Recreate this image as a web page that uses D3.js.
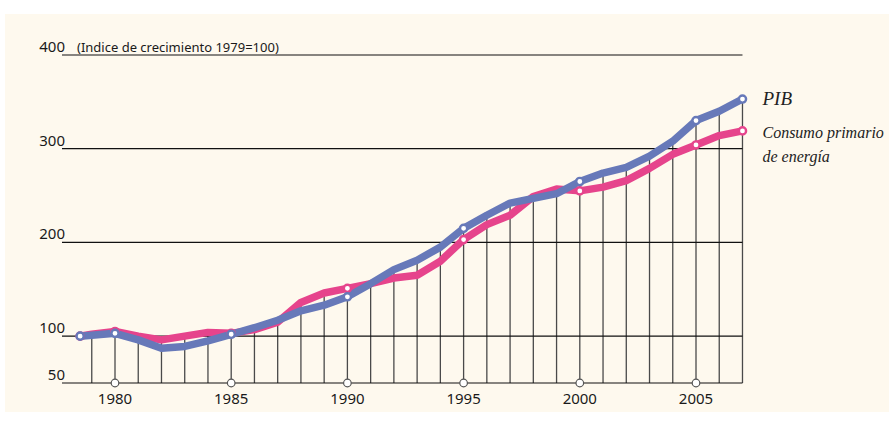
<!DOCTYPE html>
<html lang="es">
<head>
  <meta charset="UTF-8">
  <title>PIB y consumo primario de energía</title>
  <script src="https://cdn.jsdelivr.net/npm/d3@7"></script>
  <style>
    body {
      margin: 0;
      background: #fff;
    }
    svg {
      display: block;
    }
    .tick-label {
      font-family: "Noto Sans", sans-serif;
      font-size: 15px;
      fill: #1a1a1a;
    }
    .legend {
      font-family: "Liberation Serif", serif;
      font-style: italic;
      font-size: 16px;
      fill: #222;
    }
  </style>
</head>
<body>
  <svg width="889" height="422"></svg>
  <script>
    // Datos (índice 1979 = 100)
    const years = [1978.5, 1979, 1980, 1981, 1982, 1983, 1984, 1985, 1986, 1987, 1988,
      1989, 1990, 1991, 1992, 1993, 1994, 1995, 1996, 1997, 1998, 1999,
      2000, 2001, 2002, 2003, 2004, 2005, 2006, 2007];
    const pib = [100, 101, 103, 96, 87, 89, 95, 102, 109, 117, 127,
      133, 142, 156, 171, 181, 195, 215, 229, 242, 247, 252,
      265, 274, 280, 292, 308, 330, 340, 353];
    const energia = [100, 102, 105, 100, 96, 100, 104, 103, 107, 115, 136,
      146, 151, 156, 162, 165, 180, 203, 219, 229, 249, 257,
      255, 259, 266, 279, 294, 304, 314, 319];
    const markedYears = [1978.5, 1980, 1985, 1990, 1995, 2000, 2005, 2007];
    const yearLabels = [1980, 1985, 1990, 1995, 2000, 2005];
    const yTicks = [50, 100, 200, 300, 400];
    const unitNote = '(Indice de crecimiento 1979=100)';

    const blue = '#6779b9';
    const pink = '#e6448c';

    const svg = d3.select('svg');

    const x = d3.scaleLinear().domain([1980, 2005]).range([115, 696]);
    const y = d3.scaleLinear().domain([50, 400]).range([383, 55]);
    const x0 = 62;
    const x1 = x(2007);

    // fondo crema
    svg.append('rect')
      .attr('x', 5).attr('y', 14)
      .attr('width', 884).attr('height', 398)
      .attr('fill', '#fef9ee');

    // lineas verticales por año
    const rows = years.map((yr, i) => ({ year: yr, pib: pib[i], energia: energia[i] }));
    svg.append('g')
      .selectAll('line')
      .data(rows.filter(d => Number.isInteger(d.year)))
      .join('line')
      .attr('x1', d => x(d.year)).attr('x2', d => x(d.year))
      .attr('y1', y(50))
      .attr('y2', d => y(Math.max(d.pib, d.energia)))
      .attr('stroke', '#4a4a4a')
      .attr('stroke-width', 1.3);

    // lineas horizontales
    svg.append('g')
      .selectAll('line')
      .data(yTicks)
      .join('line')
      .attr('x1', x0).attr('x2', x1)
      .attr('y1', d => y(d)).attr('y2', d => y(d))
      .attr('stroke', '#111')
      .attr('stroke-width', 1.2);

    svg.append('g')
      .selectAll('text')
      .data(yTicks)
      .join('text')
      .attr('class', 'tick-label')
      .attr('x', 65)
      .attr('y', d => y(d) - 3)
      .attr('text-anchor', 'end')
      .text(d => d);

    svg.append('text')
      .attr('class', 'tick-label')
      .attr('x', 77)
      .attr('y', y(400) - 3)
      .style('font-size', '13px')
      .text(unitNote);

    // eje de años
    svg.append('g')
      .selectAll('circle')
      .data(yearLabels)
      .join('circle')
      .attr('cx', d => x(d))
      .attr('cy', y(50))
      .attr('r', 3.8)
      .attr('fill', '#fff')
      .attr('stroke', '#555')
      .attr('stroke-width', 1.2);

    svg.append('g')
      .selectAll('text')
      .data(yearLabels)
      .join('text')
      .attr('class', 'tick-label')
      .attr('x', d => x(d))
      .attr('y', 404)
      .attr('text-anchor', 'middle')
      .text(d => d);

    // series
    const series = [
      { key: 'energia', color: pink },
      { key: 'pib', color: blue }
    ];

    series.forEach(s => {
      const line = d3.line()
        .x(d => x(d.year))
        .y(d => y(d[s.key]));
      svg.append('path')
        .datum(rows)
        .attr('d', line)
        .attr('fill', 'none')
        .attr('stroke', s.color)
        .attr('stroke-width', 7.5)
        .attr('stroke-linejoin', 'round')
        .attr('stroke-linecap', 'round');
    });

    series.forEach(s => {
      svg.append('g')
        .selectAll('circle')
        .data(rows.filter(d => markedYears.includes(d.year)))
        .join('circle')
        .attr('cx', d => x(d.year))
        .attr('cy', d => y(d[s.key]))
        .attr('r', 3.6)
        .attr('fill', '#fff')
        .attr('stroke', s.color)
        .attr('stroke-width', 2.4);
    });

    // leyenda
    const last = rows[rows.length - 1];
    svg.append('text')
      .attr('class', 'legend')
      .attr('x', x1 + 20)
      .attr('y', y(last.pib) + 6)
      .style('font-size', '19px')
      .text('PIB');

    const legend2 = svg.append('text')
      .attr('class', 'legend')
      .attr('x', x1 + 20)
      .attr('y', y(last.energia) + 7);
    legend2.append('tspan').text('Consumo primario');
    legend2.append('tspan')
      .attr('x', x1 + 20)
      .attr('dy', 24)
      .text('de energía');
  </script>
</body>
</html>
